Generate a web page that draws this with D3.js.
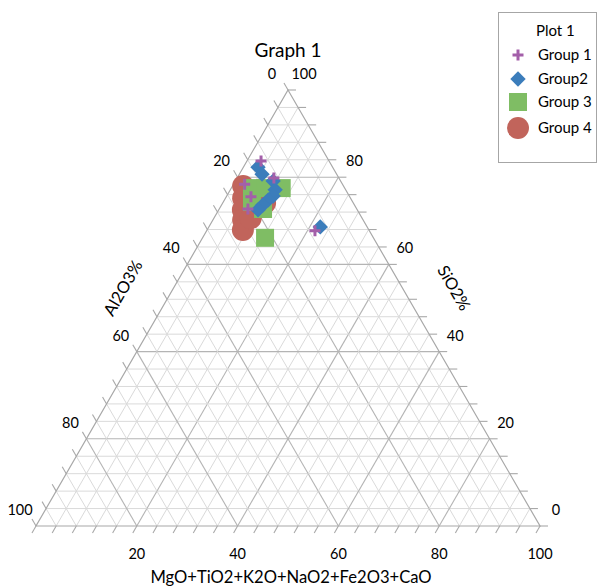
<!DOCTYPE html>
<html>
<head>
<meta charset="utf-8">
<script src="https://cdn.jsdelivr.net/npm/d3@7"></script>
<style>
  body { margin: 0; background: #fff; }
  text { font-family: Lato, "Open Sans", sans-serif; fill: #000; }
</style>
</head>
<body>
<svg id="chart" width="600" height="586"></svg>
<script>
// Composition of each sample: [SiO2 %, Al2O3 %, MgO+TiO2+K2O+NaO2+Fe2O3+CaO %]
const group1 = [[83.7,13.5,2.8],[79.8,12.9,7.3],[78.4,19.4,2.2],[75.5,19.6,4.9],[72.7,21.6,5.7],[67.7,10.8,21.5]];
const group2 = [[82.3,14.8,2.9],[80.7,14.8,4.5],[79.1,13.4,7.5],[77.1,14.0,8.9],[75.7,15.1,9.2],[74.8,16.5,8.7],[73.6,18.2,8.2],[72.5,19.7,7.8],[68.6,9.3,22.1]];
const group3 = [[77.5,12.5,10.0],[66.1,21.5,12.4],[77.5,18.4,4.1],[77.5,15.8,6.7],[74.3,20.0,5.7],[72.7,18.6,8.7]];
const group4 = [[78.0,19.9,2.1],[75.2,21.3,3.5],[72.5,22.7,4.8],[70.2,23.8,6.0],[67.9,25.0,7.1],[74.1,17.5,8.4],[70.6,22.1,7.3]];

const seriesNames = ["Group 1", "Group2", "Group 3", "Group 4"];
const seriesColors = ["#a35fa9", "#3b7dbb", "#7fbd64", "#c1645b"];
const seriesShapes = ["plus", "diamond", "square", "circle"];

const tickValues = d3.range(0, 101, 4);     // minor grid / tick marks
const labelValues = d3.range(0, 101, 20);   // labelled values

const chartTitle = "Graph 1";
const legendTitle = "Plot 1";
const axisTitles = { right: "SiO2%", left: "Al2O3%", bottom: "MgO+TiO2+K2O+NaO2+Fe2O3+CaO" };

const svg = d3.select("#chart");

// Triangle: apex = 100 % SiO2, bottom-left = 100 % Al2O3, bottom-right = 100 % other oxides
const yScale = d3.scaleLinear().domain([0, 100]).range([526, 90]);
const xScale = d3.scaleLinear().domain([0, 100]).range([36, 540]);

function proj(s, a, c) {
  const t = s + a + c;
  s = s / t * 100; c = c / t * 100;
  return [xScale(c + s / 2), yScale(s)];
}

const line = d3.line();

// grid
const grid = svg.append("g");
tickValues.filter(v => v > 0 && v < 100).forEach(v => {
  const major = v % 20 === 0;
  const st = major ? "#b4b4b4" : "#dadada";
  const sw = major ? 1.1 : 1;
  // constant SiO2
  grid.append("path").attr("d", line([proj(v, 100 - v, 0), proj(v, 0, 100 - v)]))
    .attr("stroke", st).attr("stroke-width", sw).attr("fill", "none");
  // constant other oxides
  grid.append("path").attr("d", line([proj(0, 100 - v, v), proj(100 - v, 0, v)]))
    .attr("stroke", st).attr("stroke-width", sw).attr("fill", "none");
  // constant Al2O3
  grid.append("path").attr("d", line([proj(100 - v, v, 0), proj(0, v, 100 - v)]))
    .attr("stroke", st).attr("stroke-width", sw).attr("fill", "none");
});

// outline
svg.append("path")
  .attr("d", line([proj(100, 0, 0), proj(0, 0, 100), proj(0, 100, 0)]) + "Z")
  .attr("fill", "none").attr("stroke", "#a8a8a8").attr("stroke-width", 1.2);

// tick marks
const tl = 8;
const ticks = svg.append("g").attr("stroke", "#a8a8a8").attr("stroke-width", 1.1);
tickValues.forEach(v => {
  const r = proj(v, 0, 100 - v);          // right edge, SiO2 = v
  ticks.append("path").attr("d", line([r, [r[0] + tl, r[1]]]));
  const b = proj(0, 100 - v, v);          // bottom edge, other = v
  ticks.append("path").attr("d", line([b, [b[0] - tl * 0.5, b[1] + tl * 0.866]]));
  const l = proj(100 - v, v, 0);          // left edge, Al2O3 = v
  ticks.append("path").attr("d", line([l, [l[0] - tl * 0.5, l[1] - tl * 0.866]]));
});

// tick labels
const lab = svg.append("g").attr("font-size", 14.5).attr("text-anchor", "middle");
labelValues.forEach(v => {
  const r = proj(v, 0, 100 - v);
  lab.append("text").attr("x", r[0] + 16).attr("y", r[1] - 16).attr("dy", "0.35em").text(v);
  const l = proj(100 - v, v, 0);
  lab.append("text").attr("x", l[0] - 16).attr("y", l[1] - 16).attr("dy", "0.35em").text(v);
  if (v > 0) {
    const b = proj(0, 100 - v, v);
    lab.append("text").attr("x", b[0]).attr("y", b[1] + 28).attr("dy", "0.35em").text(v);
  }
});

// titles
svg.append("text").attr("x", 288).attr("y", 50).attr("dy", "0.35em")
  .attr("text-anchor", "middle").attr("font-size", 19).text(chartTitle);
svg.append("text").attr("x", 291).attr("y", 577).attr("dy", "0.35em")
  .attr("text-anchor", "middle").attr("font-size", 16.6).text(axisTitles.bottom);
svg.append("text").attr("transform", "translate(123,288) rotate(-60)").attr("dy", "0.35em")
  .attr("text-anchor", "middle").attr("font-size", 16.5).text(axisTitles.left);
svg.append("text").attr("transform", "translate(454,288) rotate(60)").attr("dy", "0.35em")
  .attr("text-anchor", "middle").attr("font-size", 16.5).text(axisTitles.right);

// markers
function drawMarker(g, shape, color) {
  if (shape === "plus") {
    g.append("path").attr("d", "M-5.5,0H5.5M0,-5.5V5.5")
      .attr("stroke", color).attr("stroke-width", 3).attr("fill", "none");
  } else if (shape === "diamond") {
    g.append("path").attr("d", d3.symbol(d3.symbolSquare, 118)()).attr("transform", "rotate(45)")
      .attr("fill", color);
  } else if (shape === "square") {
    g.append("path").attr("d", d3.symbol(d3.symbolSquare, 324)()).attr("fill", color);
  } else {
    g.append("path").attr("d", d3.symbol(d3.symbolCircle, 380)()).attr("fill", color);
  }
}

const groups = [group1, group2, group3, group4];
const plot = svg.append("g");
// later groups sit underneath earlier ones
[3, 2, 1, 0].forEach(i => {
  groups[i].forEach(d => {
    const p = proj(d[0], d[1], d[2]);
    const g = plot.append("g").attr("transform", `translate(${p[0]},${p[1]})`);
    drawMarker(g, seriesShapes[i], seriesColors[i]);
  });
});

// legend
const legend = svg.append("g");
legend.append("rect").attr("x", 498.5).attr("y", 12.5).attr("width", 98).attr("height", 150)
  .attr("fill", "#fff").attr("stroke", "#a6a6a6").attr("stroke-width", 1);
legend.append("text").attr("x", 536).attr("y", 31).attr("dy", "0.35em")
  .attr("font-size", 15).text(legendTitle);
const legendY = [55, 79, 102, 128];
seriesNames.forEach((name, i) => {
  const g = legend.append("g").attr("transform", `translate(518,${legendY[i]})`);
  drawMarker(g, seriesShapes[i], seriesColors[i]);
  legend.append("text").attr("x", 538).attr("y", legendY[i]).attr("dy", "0.35em")
    .attr("font-size", 15).text(name);
});
</script>
</body>
</html>
